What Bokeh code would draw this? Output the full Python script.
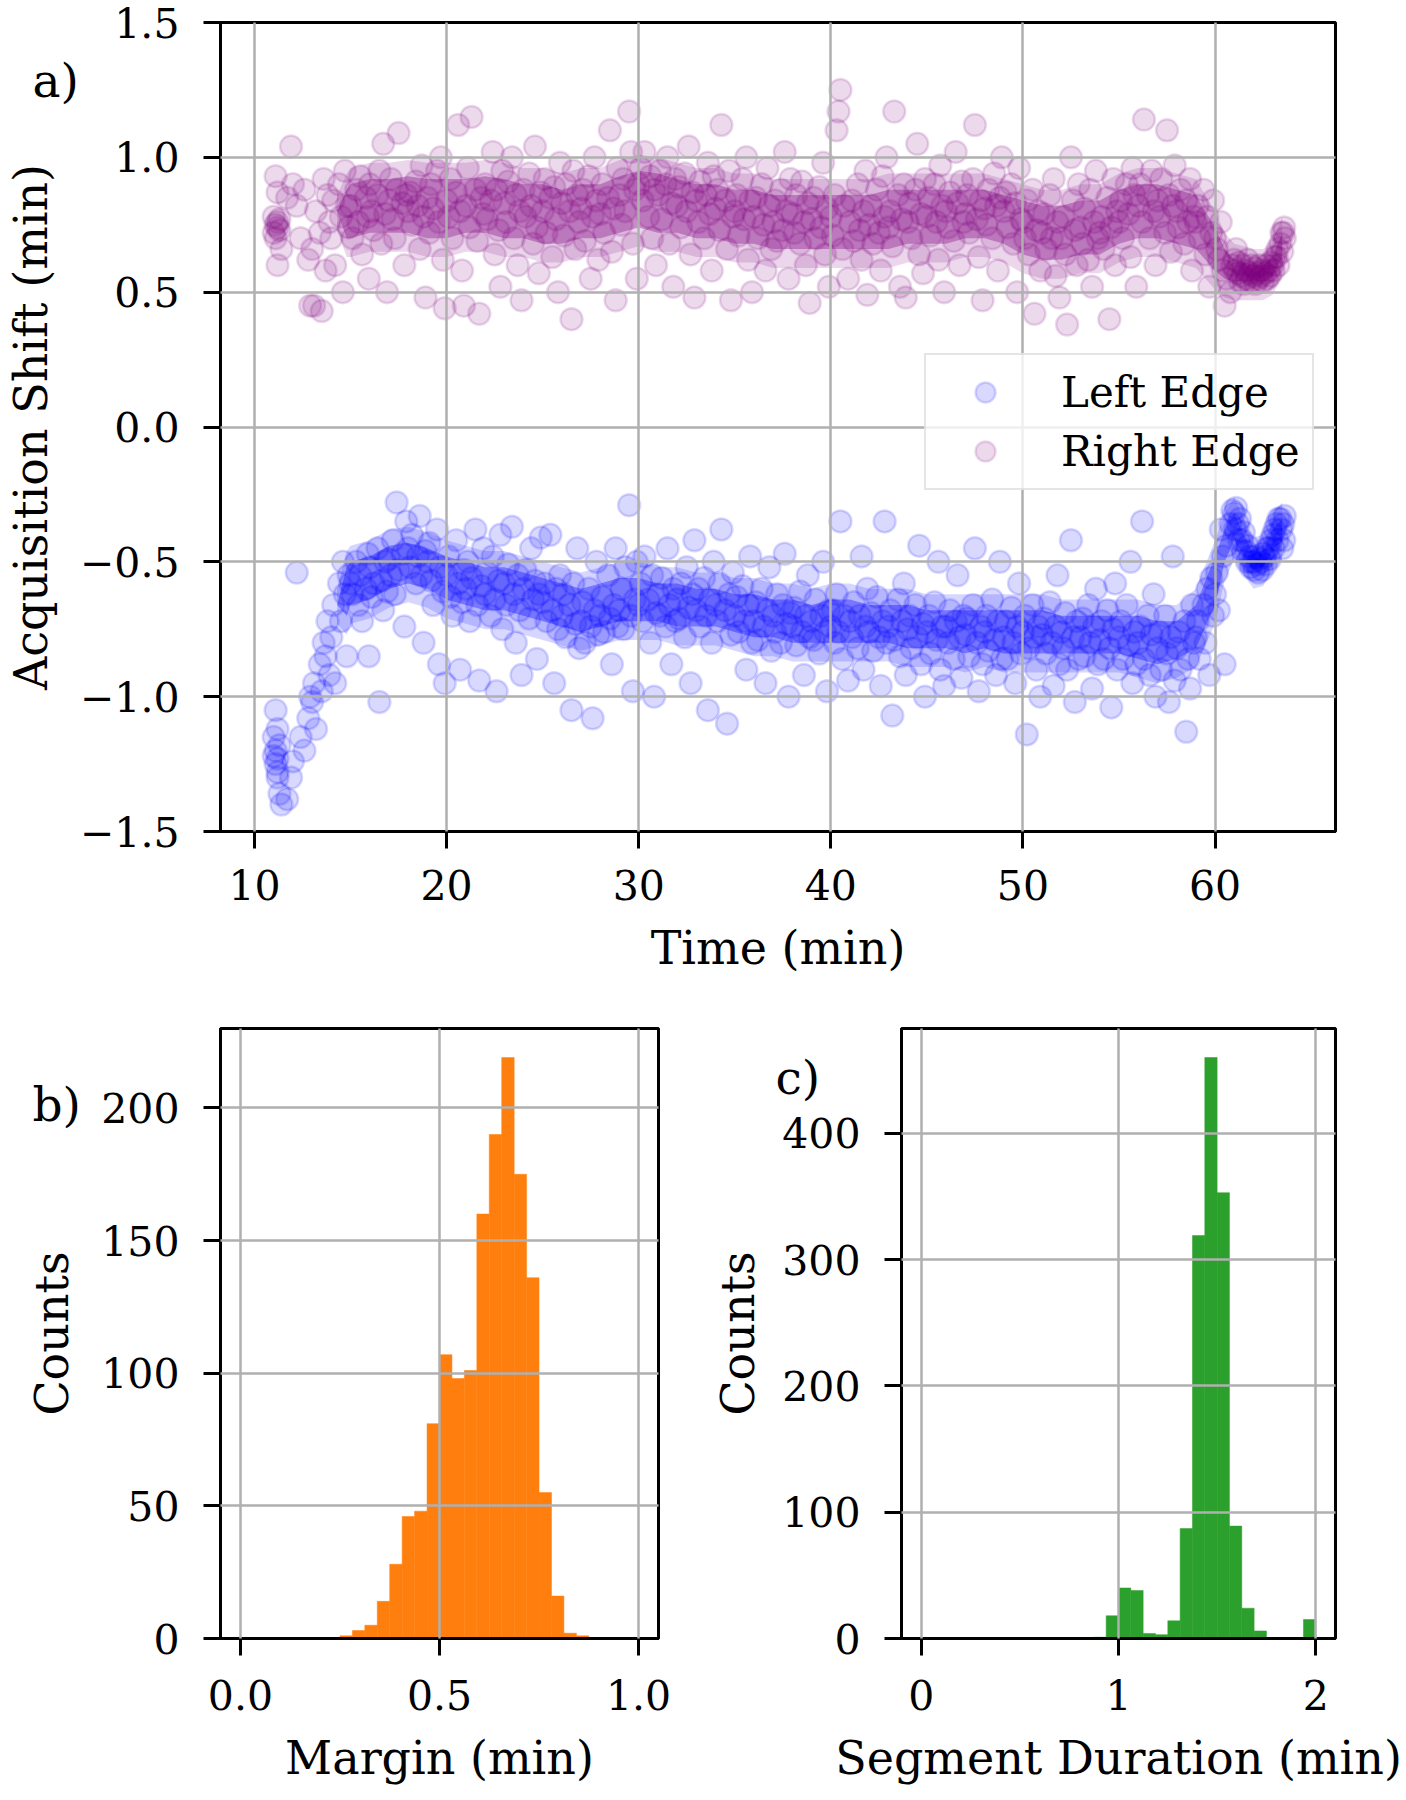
import numpy as np
from bokeh.plotting import figure
from bokeh.layouts import column, row
from bokeh.models import (ColumnDataSource, FixedTicker, CustomJSTickFormatter, Label,
                          Range1d, Legend, LegendItem)
from bokeh.embed import file_html
from bokeh.resources import INLINE

FONT = "DejaVu Serif"

# ---------------- data ----------------
# acquisition segments: time (min), left-edge shift (min), right-edge shift (min)
seg_time = [
    11.0, 11.0, 11.1, 11.1, 11.1, 11.2, 11.2, 11.2, 11.2, 11.3, 11.3, 11.4,
    11.7, 11.9, 12.0, 12.2, 12.4, 12.6, 12.8, 12.9,
    13.0, 13.1, 13.2, 13.4, 13.5, 13.6, 13.7, 13.8, 13.9,
    14.0, 14.1, 14.2, 14.4, 14.5, 14.6, 14.7, 14.8, 14.9,
    15.0, 15.1, 15.3, 15.4, 15.5, 15.6, 15.8, 15.9, 15.95,
    16.0, 16.1, 16.2, 16.4, 16.5, 16.6, 16.7, 16.8, 16.9,
    17.0, 17.1, 17.2, 17.3, 17.4, 17.5, 17.7, 17.8, 17.9,
    18.0, 18.1, 18.2, 18.4, 18.5, 18.6, 18.7, 18.8, 18.9,
    19.0, 19.1, 19.2, 19.3, 19.5, 19.6, 19.7, 19.8, 19.9,
    20.0, 20.1, 20.2, 20.3, 20.5, 20.6, 20.7, 20.8, 20.9,
    21.0, 21.1, 21.2, 21.3, 21.5, 21.6, 21.7, 21.8, 21.9,
    22.0, 22.1, 22.3, 22.4, 22.5, 22.6, 22.7, 22.8, 22.9,
    23.0, 23.1, 23.2, 23.4, 23.5, 23.6, 23.7, 23.8, 23.9,
    24.0, 24.1, 24.3, 24.4, 24.5, 24.6, 24.7, 24.8, 24.9,
    25.0, 25.1, 25.2, 25.4, 25.5, 25.6, 25.7, 25.8, 25.9,
    26.0, 26.1, 26.2, 26.4, 26.5, 26.6, 26.7, 26.8, 26.9,
    27.0, 27.1, 27.2, 27.4, 27.5, 27.6, 27.7, 27.8, 27.9,
    28.0, 28.1, 28.2, 28.4, 28.5, 28.6, 28.7, 28.8, 28.9,
    29.0, 29.1, 29.2, 29.3, 29.5, 29.6, 29.7, 29.8, 29.9,
    30.0, 30.1, 30.2, 30.3, 30.5, 30.6, 30.7, 30.8, 30.9,
    31.0, 31.1, 31.2, 31.4, 31.5, 31.6, 31.7, 31.8, 31.9,
    32.0, 32.1, 32.2, 32.4, 32.5, 32.6, 32.7, 32.8, 32.9,
    33.0, 33.1, 33.2, 33.4, 33.5, 33.6, 33.7, 33.8, 33.9,
    34.0, 34.1, 34.2, 34.3, 34.5, 34.6, 34.7, 34.8, 34.9,
    35.0, 35.1, 35.2, 35.4, 35.5, 35.6, 35.7, 35.8, 35.9,
    36.0, 36.1, 36.2, 36.4, 36.5, 36.6, 36.7, 36.8, 36.9,
    37.0, 37.1, 37.2, 37.4, 37.5, 37.6, 37.7, 37.8, 37.9,
    38.0, 38.1, 38.2, 38.4, 38.5, 38.6, 38.7, 38.8, 38.9,
    39.0, 39.1, 39.2, 39.4, 39.5, 39.6, 39.7, 39.8, 39.9,
    40.0, 40.1, 40.2, 40.3, 40.4, 40.5, 40.6, 40.7, 40.9,
    41.0, 41.1, 41.2, 41.4, 41.5, 41.6, 41.7, 41.8, 41.9,
    42.0, 42.1, 42.2, 42.4, 42.5, 42.6, 42.7, 42.8, 42.9,
    43.0, 43.1, 43.2, 43.3, 43.5, 43.6, 43.7, 43.8, 43.9,
    44.0, 44.1, 44.2, 44.4, 44.5, 44.6, 44.7, 44.8, 44.9,
    45.0, 45.1, 45.2, 45.4, 45.5, 45.6, 45.7, 45.8, 45.9,
    46.0, 46.1, 46.2, 46.4, 46.5, 46.6, 46.7, 46.8, 46.9,
    47.0, 47.1, 47.2, 47.4, 47.5, 47.6, 47.7, 47.8, 47.9,
    48.0, 48.1, 48.2, 48.4, 48.5, 48.6, 48.7, 48.8, 48.9,
    49.0, 49.1, 49.2, 49.4, 49.5, 49.6, 49.7, 49.8, 49.9,
    50.0, 50.1, 50.2, 50.3, 50.5, 50.6, 50.7, 50.8, 50.9,
    51.0, 51.1, 51.2, 51.4, 51.5, 51.6, 51.7, 51.8, 51.9,
    52.0, 52.1, 52.2, 52.3, 52.5, 52.6, 52.7, 52.8, 52.9,
    53.0, 53.1, 53.2, 53.4, 53.5, 53.6, 53.7, 53.8, 53.9,
    54.0, 54.1, 54.2, 54.4, 54.5, 54.6, 54.7, 54.8, 54.9,
    55.0, 55.1, 55.2, 55.4, 55.5, 55.6, 55.7, 55.8, 55.9,
    56.0, 56.1, 56.2, 56.3, 56.5, 56.6, 56.7, 56.8, 56.9,
    57.0, 57.1, 57.2, 57.4, 57.5, 57.6, 57.7, 57.8, 57.9,
    58.0, 58.1, 58.2, 58.4, 58.5, 58.6, 58.7, 58.8, 58.9,
    59.0, 59.1, 59.2, 59.4, 59.5, 59.6, 59.7, 59.8, 59.9,
    60.0, 60.1, 60.2, 60.3, 60.4, 60.5, 60.6, 60.8, 60.9,
    61.0, 61.05, 61.1, 61.2, 61.25, 61.3, 61.4, 61.45, 61.5,
    61.6, 61.65, 61.7, 61.8, 61.85, 61.9, 62.0, 62.05, 62.1,
    62.2, 62.25, 62.3, 62.4, 62.45, 62.5, 62.6, 62.65, 62.7,
    62.8, 62.85, 62.9, 63.0, 63.05, 63.1, 63.2, 63.25, 63.3,
    63.4, 63.45, 63.5, 63.55, 63.6, 63.63,
]
left_shift = [
    -1.22, -1.15, -1.25, -1.20, -1.05, -1.28, -1.23, -1.30, -1.12, -1.18, -1.36, -1.40,
    -1.38, -1.30, -1.24, -0.54, -1.15, -1.20, -1.08, -1.00,
    -1.02, -0.95, -1.12, -0.88, -0.98, -0.80, -0.85, -0.72, -0.92,
    -0.78, -0.66, -0.95, -0.58, -0.72, -0.50, -0.62, -0.85, -0.55,
    -0.58, -0.62, -0.50, -0.66, -0.55, -0.72, -0.60, -0.47, -0.85,
    -0.52, -0.63, -0.58, -0.45, -1.02, -0.57, -0.68, -0.50, -0.61,
    -0.49, -0.55, -0.42, -0.62, -0.28, -0.53, -0.47, -0.74, -0.35,
    -0.45, -0.52, -0.40, -0.58, -0.48, -0.33, -0.55, -0.80, -0.46,
    -0.50, -0.43, -0.57, -0.66, -0.38, -0.88, -0.52, -0.61, -0.95,
    -0.55, -0.48, -0.63, -0.70, -0.42, -0.58, -0.90, -0.65, -0.53,
    -0.60, -0.50, -0.72, -0.56, -0.38, -0.66, -0.94, -0.59, -0.45,
    -0.62, -0.54, -0.70, -0.48, -0.64, -0.98, -0.57, -0.40, -0.75,
    -0.58, -0.66, -0.51, -0.37, -0.62, -0.80, -0.55, -0.68, -0.92,
    -0.60, -0.53, -0.71, -0.45, -0.64, -0.57, -0.86, -0.62, -0.41,
    -0.65, -0.58, -0.72, -0.40, -0.68, -0.95, -0.60, -0.75, -0.55,
    -0.70, -0.62, -0.78, -0.66, -1.05, -0.58, -0.73, -0.45, -0.82,
    -0.72, -0.65, -0.80, -0.60, -0.74, -1.08, -0.68, -0.50, -0.77,
    -0.70, -0.63, -0.76, -0.55, -0.71, -0.88, -0.66, -0.45, -0.74,
    -0.68, -0.60, -0.75, -0.52, -0.29, -0.70, -0.98, -0.64, -0.50,
    -0.66, -0.58, -0.72, -0.48, -0.64, -0.80, -0.55, -1.00, -0.69,
    -0.62, -0.70, -0.56, -0.74, -0.45, -0.66, -0.88, -0.60, -0.72,
    -0.64, -0.71, -0.58, -0.78, -0.52, -0.67, -0.95, -0.62, -0.42,
    -0.68, -0.60, -0.74, -0.56, -0.70, -1.05, -0.64, -0.80, -0.50,
    -0.66, -0.72, -0.58, -0.38, -0.68, -1.10, -0.62, -0.77, -0.54,
    -0.70, -0.63, -0.76, -0.59, -0.72, -0.90, -0.66, -0.48, -0.80,
    -0.72, -0.65, -0.79, -0.60, -0.74, -0.95, -0.68, -0.52, -0.83,
    -0.70, -0.76, -0.62, -0.80, -0.66, -0.47, -0.73, -1.00, -0.69,
    -0.74, -0.67, -0.81, -0.61, -0.76, -0.92, -0.70, -0.55, -0.78,
    -0.72, -0.79, -0.64, -0.84, -0.70, -0.50, -0.76, -0.98, -0.68,
    -0.74, -0.68, -0.80, -0.62, -0.76, -0.35, -0.86, -0.70, -0.94,
    -0.72, -0.78, -0.65, -0.82, -0.70, -0.48, -0.90, -0.74, -0.60,
    -0.76, -0.69, -0.83, -0.63, -0.78, -0.96, -0.72, -0.35, -0.80,
    -0.74, -0.68, -1.07, -0.79, -0.64, -0.85, -0.72, -0.58, -0.92,
    -0.75, -0.70, -0.82, -0.66, -0.78, -0.44, -0.88, -0.73, -1.00,
    -0.76, -0.70, -0.84, -0.65, -0.79, -0.50, -0.90, -0.74, -0.96,
    -0.74, -0.80, -0.68, -0.86, -0.72, -0.55, -0.78, -0.93, -0.70,
    -0.77, -0.71, -0.85, -0.66, -0.45, -0.80, -0.98, -0.74, -0.88,
    -0.76, -0.70, -0.83, -0.64, -0.79, -0.92, -0.72, -0.50, -0.86,
    -0.78, -0.72, -0.86, -0.67, -0.80, -0.95, -0.74, -0.58, -0.84,
    -0.76, -0.70, -1.14, -0.82, -0.66, -0.78, -0.90, -0.74, -1.00,
    -0.77, -0.71, -0.84, -0.65, -0.80, -0.96, -0.74, -0.55, -0.88,
    -0.76, -0.82, -0.69, -0.90, -0.42, -0.78, -1.02, -0.72, -0.86,
    -0.78, -0.71, -0.85, -0.66, -0.80, -0.97, -0.74, -0.60, -0.88,
    -0.79, -0.72, -0.86, -0.68, -0.82, -1.04, -0.75, -0.58, -0.90,
    -0.78, -0.72, -0.86, -0.66, -0.81, -0.50, -0.95, -0.76, -0.88,
    -0.80, -0.74, -0.35, -0.86, -0.70, -0.92, -0.77, -0.62, -1.00,
    -0.82, -0.76, -0.90, -0.70, -0.84, -1.02, -0.78, -0.48, -0.94,
    -0.82, -0.76, -0.90, -0.72, -1.13, -0.86, -0.97, -0.66, -0.80,
    -0.78, -0.72, -0.86, -0.66, -0.80, -0.60, -0.92, -0.56, -0.70,
    -0.62, -0.54, -0.68, -0.38, -0.48, -0.88, -0.44, -0.36, -0.31,
    -0.32, -0.38, -0.30, -0.36, -0.42, -0.34, -0.42, -0.46, -0.39,
    -0.46, -0.50, -0.44, -0.48, -0.52, -0.50, -0.50, -0.53, -0.48,
    -0.51, -0.54, -0.49, -0.50, -0.53, -0.47, -0.48, -0.51, -0.45,
    -0.45, -0.49, -0.42, -0.40, -0.45, -0.38, -0.36, -0.42, -0.34,
    -0.34, -0.38, -0.45, -0.36, -0.42, -0.33,
]
right_shift = [
    0.72, 0.78, 0.75, 0.70, 0.93, 0.74, 0.76, 0.60, 0.87, 0.73, 0.77, 0.66,
    0.85, 1.04, 0.90, 0.82, 0.70, 0.88, 0.62, 0.45,
    0.66, 0.45, 0.80, 0.72, 0.43, 0.92, 0.58, 0.86, 0.76,
    0.70, 0.84, 0.60, 0.90, 0.78, 0.50, 0.95, 0.82, 0.74,
    0.82, 0.70, 0.88, 0.76, 0.93, 0.64, 0.85, 0.78, 0.55,
    0.90, 0.80, 0.73, 0.86, 0.95, 0.68, 1.05, 0.79, 0.50,
    0.84, 0.92, 0.77, 0.70, 0.88, 1.09, 0.83, 0.60, 0.86,
    0.80, 0.87, 0.75, 0.91, 0.82, 0.66, 0.97, 0.78, 0.48,
    0.85, 0.72, 0.90, 0.81, 0.95, 0.76, 1.00, 0.62, 0.44,
    0.84, 0.78, 0.92, 0.70, 0.87, 1.12, 0.80, 0.58, 0.45,
    0.82, 0.96, 0.74, 1.15, 0.88, 0.69, 0.42, 0.85, 0.79,
    0.90, 0.77, 0.84, 1.02, 0.64, 0.88, 0.73, 0.52, 0.95,
    0.83, 0.76, 0.91, 1.00, 0.70, 0.86, 0.60, 0.80, 0.47,
    0.88, 0.78, 0.94, 0.82, 0.68, 1.04, 0.74, 0.57, 0.87,
    0.80, 0.92, 0.72, 0.85, 0.63, 0.89, 0.77, 0.50, 0.98,
    0.83, 0.71, 0.90, 0.80, 0.40, 0.95, 0.66, 0.86, 0.76,
    0.81, 0.88, 0.69, 0.93, 0.55, 0.78, 1.00, 0.84, 0.62,
    0.79, 0.90, 0.72, 0.85, 1.10, 0.65, 0.81, 0.47, 0.96,
    0.86, 0.75, 0.92, 0.80, 1.17, 1.02, 0.68, 0.88, 0.55,
    0.90, 0.96, 0.84, 1.02, 0.78, 0.93, 0.70, 0.88, 0.60,
    0.86, 0.95, 0.77, 0.90, 1.00, 0.68, 0.83, 0.52, 0.92,
    0.82, 0.89, 0.74, 0.94, 0.80, 1.04, 0.64, 0.87, 0.48,
    0.84, 0.76, 0.91, 0.70, 0.86, 0.98, 0.79, 0.58, 0.93,
    0.81, 0.88, 0.73, 1.12, 0.84, 0.66, 0.95, 0.47, 0.78,
    0.80, 0.86, 0.71, 0.92, 0.77, 1.00, 0.62, 0.84, 0.50,
    0.78, 0.85, 0.70, 0.90, 0.75, 0.58, 0.96, 0.82, 0.66,
    0.76, 0.84, 0.69, 0.88, 0.73, 1.02, 0.80, 0.55, 0.92,
    0.79, 0.72, 0.86, 0.68, 0.91, 0.76, 0.60, 0.83, 0.46,
    0.77, 0.85, 0.70, 0.89, 0.74, 0.98, 0.64, 0.81, 0.52,
    0.78, 0.71, 0.86, 1.10, 1.17, 1.25, 0.66, 0.82, 0.55,
    0.76, 0.84, 0.69, 0.90, 0.73, 0.62, 0.80, 0.95, 0.49,
    0.75, 0.82, 0.68, 0.88, 0.72, 0.58, 0.93, 0.78, 1.00,
    0.74, 0.80, 0.67, 1.17, 0.86, 0.52, 0.77, 0.90, 0.48,
    0.76, 0.83, 0.70, 0.88, 1.05, 0.64, 0.79, 0.57, 0.92,
    0.78, 0.85, 0.71, 0.90, 0.76, 0.62, 0.97, 0.82, 0.50,
    0.80, 0.74, 0.87, 0.69, 1.02, 0.83, 0.60, 0.91, 0.76,
    0.79, 0.86, 0.72, 0.92, 1.12, 0.77, 0.63, 0.84, 0.47,
    0.81, 0.75, 0.88, 0.70, 0.94, 0.82, 0.58, 0.85, 1.00,
    0.80, 0.87, 0.74, 0.90, 0.68, 0.83, 0.50, 0.96, 0.77,
    0.76, 0.70, 0.84, 0.64, 0.88, 0.42, 0.73, 0.80, 0.58,
    0.72, 0.79, 0.66, 0.86, 0.70, 0.92, 0.56, 0.76, 0.48,
    0.70, 0.78, 0.64, 0.38, 1.00, 0.84, 0.73, 0.60, 0.90,
    0.74, 0.68, 0.81, 0.62, 0.88, 0.52, 0.76, 0.95, 0.70,
    0.72, 0.78, 0.66, 0.85, 0.40, 0.74, 0.92, 0.60, 0.80,
    0.76, 0.84, 0.70, 0.90, 0.79, 0.63, 0.96, 0.86, 0.52,
    0.82, 0.90, 0.76, 1.14, 0.86, 0.70, 0.95, 0.80, 0.60,
    0.84, 0.78, 0.92, 0.72, 1.10, 0.86, 0.65, 0.82, 0.97,
    0.80, 0.74, 0.88, 0.68, 0.84, 0.76, 0.92, 0.58, 0.78,
    0.76, 0.82, 0.70, 0.88, 0.64, 0.78, 0.52, 0.72, 0.84,
    0.70, 0.66, 0.62, 0.76, 0.58, 0.45, 0.55, 0.50, 0.60,
    0.62, 0.58, 0.66, 0.57, 0.61, 0.54, 0.56, 0.60, 0.53,
    0.58, 0.55, 0.62, 0.57, 0.54, 0.60, 0.56, 0.59, 0.53,
    0.57, 0.55, 0.60, 0.56, 0.58, 0.54, 0.57, 0.60, 0.55,
    0.58, 0.56, 0.61, 0.60, 0.58, 0.63, 0.63, 0.66, 0.60,
    0.68, 0.72, 0.65, 0.72, 0.74, 0.70,
]

# where the circles pile up densely (dark core of each cloud), read per minute
core_time = [14.3, 14.8, 15, 16, 17, 18, 19, 20, 21, 22, 23, 24, 25, 26, 27, 28, 29, 30, 31,
             32, 33, 34, 35, 36, 37, 38, 39, 40, 41, 42, 43, 44, 45, 46, 47, 48, 49, 50,
             51, 52, 53, 54, 55, 56, 57, 58, 59, 60, 60.5, 61, 61.5, 62, 62.5, 63, 63.5]
right_core_low = [0.80, 0.70, 0.70, 0.72, 0.72, 0.72, 0.70, 0.70, 0.72, 0.72, 0.70, 0.70,
                  0.68, 0.68, 0.70, 0.70, 0.72, 0.74, 0.72, 0.72, 0.70, 0.70, 0.68, 0.68,
                  0.66, 0.66, 0.66, 0.66, 0.66, 0.66, 0.66, 0.68, 0.68, 0.68, 0.70, 0.70,
                  0.68, 0.64, 0.62, 0.62, 0.64, 0.64, 0.68, 0.70, 0.70, 0.68, 0.66, 0.58,
                  0.55, 0.54, 0.54, 0.54, 0.54, 0.56, 0.63]
right_core_high = [0.80, 0.88, 0.90, 0.92, 0.92, 0.93, 0.92, 0.92, 0.92, 0.93, 0.92, 0.90,
                   0.90, 0.88, 0.90, 0.90, 0.93, 0.95, 0.94, 0.92, 0.90, 0.90, 0.88, 0.88,
                   0.86, 0.86, 0.86, 0.86, 0.86, 0.86, 0.88, 0.88, 0.88, 0.88, 0.88, 0.88,
                   0.86, 0.84, 0.82, 0.82, 0.84, 0.84, 0.88, 0.90, 0.90, 0.88, 0.86, 0.74,
                   0.66, 0.62, 0.61, 0.60, 0.60, 0.63, 0.72]
left_core_low = [-0.66, -0.70, -0.66, -0.64, -0.60, -0.58, -0.60, -0.64, -0.66, -0.68, -0.68,
                 -0.70, -0.72, -0.74, -0.76, -0.74, -0.72, -0.72, -0.72, -0.74, -0.74, -0.74,
                 -0.76, -0.78, -0.78, -0.80, -0.80, -0.80, -0.80, -0.80, -0.80, -0.82, -0.82,
                 -0.82, -0.84, -0.82, -0.84, -0.84, -0.84, -0.84, -0.84, -0.84, -0.84, -0.86,
                 -0.88, -0.86, -0.82, -0.66, -0.50, -0.42, -0.48, -0.53, -0.52, -0.46, -0.42]
left_core_high = [-0.66, -0.52, -0.50, -0.48, -0.44, -0.43, -0.45, -0.48, -0.50, -0.52, -0.52,
                  -0.54, -0.56, -0.58, -0.60, -0.58, -0.56, -0.56, -0.58, -0.58, -0.60, -0.60,
                  -0.62, -0.62, -0.64, -0.64, -0.66, -0.64, -0.64, -0.66, -0.66, -0.66, -0.68,
                  -0.68, -0.68, -0.68, -0.68, -0.68, -0.68, -0.70, -0.70, -0.70, -0.70, -0.70,
                  -0.72, -0.72, -0.66, -0.48, -0.38, -0.32, -0.40, -0.47, -0.46, -0.38, -0.34]

# histogram b): margin (min), 32 equal bins over [0, 1]
margin_range = (0.0, 1.0)
margin_counts = [0, 0, 0, 0, 0, 0, 0, 0, 1, 3, 5, 14, 28, 46, 48, 81,
                 107, 98, 101, 160, 190, 219, 175, 136, 55, 16, 2, 1, 0, 0, 0, 0]

# histogram c): segment duration (min), 32 equal bins over [0, 2]
duration_range = (0.0, 2.0)
duration_counts = [0, 0, 0, 0, 0, 0, 0, 0, 0, 0, 0, 0, 0, 0, 1, 18,
                   40, 38, 4, 3, 14, 87, 319, 460, 353, 89, 24, 6, 0, 0, 0, 15]

assert len(seg_time) == len(left_shift) == len(right_shift)
assert len(core_time) == len(right_core_low) == len(right_core_high) == len(left_core_low) == len(left_core_high)

HALO_LOW, HALO_HIGH = 0.07, 0.06   # soft, lighter fringe drawn around each dense core


# ---------------- styling helpers ----------------
def fmt(decimals):
    return CustomJSTickFormatter(
        code="return tick.toFixed(%d).replace('-', '\\u2212');" % decimals)


def style(p, xticks, yticks, xdec, ydec, xlabel, ylabel, xstand, ylab_stand):
    p.xaxis.ticker = FixedTicker(ticks=xticks)
    p.yaxis.ticker = FixedTicker(ticks=yticks)
    p.xaxis.formatter = fmt(xdec)
    p.yaxis.formatter = fmt(ydec)
    p.xaxis.axis_label = xlabel
    p.yaxis.axis_label = ylabel
    for ax in p.axis:
        ax.major_label_text_font = FONT
        ax.major_label_text_font_size = "41px"
        ax.major_label_text_color = "black"
        ax.axis_label_text_font = FONT
        ax.axis_label_text_font_size = "46px"
        ax.axis_label_text_font_style = "normal"
        ax.axis_label_text_color = "black"
        ax.axis_line_width = 3
        ax.axis_line_color = "black"
        ax.major_tick_line_width = 3
        ax.major_tick_line_color = "black"
        ax.major_tick_in = 0
        ax.major_tick_out = 17
        ax.minor_tick_line_color = None
    p.xaxis.major_label_standoff = xstand
    p.xaxis.axis_label_standoff = 18
    p.yaxis.major_label_standoff = 24
    p.yaxis.axis_label_standoff = ylab_stand
    p.outline_line_color = "black"
    p.outline_line_width = 3
    p.outline_line_alpha = 1.0
    for g in p.grid:
        g.grid_line_color = "#b0b0b0"
        g.grid_line_width = 2.5
        g.level = "guide"
    p.background_fill_color = "white"
    p.border_fill_color = "white"


def panel_label(p, text, sx, sy):
    # placed in the (otherwise empty) right side panel so that it is not clipped to the frame;
    # screen offsets are measured from that panel's left edge (= frame right) and the frame bottom
    p.add_layout(Label(x=sx, y=sy, x_units="screen", y_units="screen", text=text,
                       text_font=FONT, text_font_size="47px", text_color="black",
                       text_baseline="alphabetic", text_align="left"), "right")


# ---------------- a) scatter ----------------
pa = figure(width=1406, height=990, x_range=Range1d(8.23, 66.27), y_range=Range1d(-1.5, 1.5),
            output_backend="svg", toolbar_location=None,
            min_border_left=220, min_border_right=71, min_border_top=22, min_border_bottom=159)
core = ColumnDataSource(dict(
    t=core_time,
    rl=right_core_low, rh=right_core_high,
    ll=left_core_low, lh=left_core_high,
    rl2=np.array(right_core_low) - HALO_LOW, rh2=np.array(right_core_high) + HALO_HIGH,
    ll2=np.array(left_core_low) - HALO_LOW, lh2=np.array(left_core_high) + HALO_HIGH))
pa.varea(x="t", y1="ll2", y2="lh2", source=core, fill_color="blue", fill_alpha=0.16)
pa.varea(x="t", y1="rl2", y2="rh2", source=core, fill_color="purple", fill_alpha=0.16)
pa.varea(x="t", y1="ll", y2="lh", source=core, fill_color="blue", fill_alpha=0.34)
pa.varea(x="t", y1="rl", y2="rh", source=core, fill_color="purple", fill_alpha=0.34)
src = ColumnDataSource(dict(t=seg_time, left=left_shift, right=right_shift))
r_left = pa.scatter("t", "left", source=src, size=22, fill_color="blue", line_color="blue",
                    fill_alpha=0.15, line_alpha=0.15, line_width=2.5)
r_right = pa.scatter("t", "right", source=src, size=22, fill_color="purple", line_color="purple",
                     fill_alpha=0.15, line_alpha=0.15, line_width=2.5)
style(pa, [10, 20, 30, 40, 50, 60], [-1.5, -1.0, -0.5, 0.0, 0.5, 1.0, 1.5], 0, 1,
      "Time (min)", "Acquisition Shift (min)", 21, 19)
legend = Legend(items=[LegendItem(label="Left Edge", renderers=[r_left]),
                       LegendItem(label="Right Edge", renderers=[r_right])],
                location=(704, 341))
legend.label_text_font = FONT
legend.label_text_font_size = "42px"
legend.label_text_color = "black"
legend.border_line_color = "#cccccc"
legend.border_line_width = 2
legend.background_fill_alpha = 0.8
legend.padding = 12
legend.spacing = 9
legend.margin = 0
legend.glyph_width = 94
legend.glyph_height = 50
legend.label_height = 50
legend.label_standoff = 29
pa.add_layout(legend)
panel_label(pa, "a)", -1303, 751)

# ---------------- b) margin histogram ----------------
m_edges = np.linspace(margin_range[0], margin_range[1], len(margin_counts) + 1)
m_pad = 0.05 * (margin_range[1] - margin_range[0])
pb = figure(width=708, height=800,
            x_range=Range1d(margin_range[0] - m_pad, margin_range[1] + m_pad),
            y_range=Range1d(0, max(margin_counts) * 1.05),
            output_backend="svg", toolbar_location=None,
            min_border_left=220, min_border_right=50, min_border_top=38, min_border_bottom=152)
pb.quad(left=m_edges[:-1], right=m_edges[1:], bottom=0, top=margin_counts,
        fill_color="#ff7f0e", line_color="#ff7f0e", line_width=0.5)
style(pb, [0.0, 0.5, 1.0], [0, 50, 100, 150, 200], 1, 0, "Margin (min)", "Counts", 24, 19)
panel_label(pb, "b)", -626, 534)

# ---------------- c) segment duration histogram ----------------
d_edges = np.linspace(duration_range[0], duration_range[1], len(duration_counts) + 1)
d_pad = 0.05 * (duration_range[1] - duration_range[0])
pc = figure(width=698, height=800,
            x_range=Range1d(duration_range[0] - d_pad, duration_range[1] + d_pad),
            y_range=Range1d(0, max(duration_counts) * 1.05),
            output_backend="svg", toolbar_location=None,
            min_border_left=189, min_border_right=71, min_border_top=38, min_border_bottom=152)
pc.quad(left=d_edges[:-1], right=d_edges[1:], bottom=0, top=duration_counts,
        fill_color="#2ca02c", line_color="#2ca02c", line_width=0.5)
style(pc, [0, 1, 2], [0, 100, 200, 300, 400], 0, 0, "Segment Duration (min)", "Counts", 24, 14)
panel_label(pc, "c)", -560, 561)

layout = column(pa, row(pb, pc))
with open("out.html", "w", encoding="utf-8") as f:
    f.write(file_html(layout, INLINE))
